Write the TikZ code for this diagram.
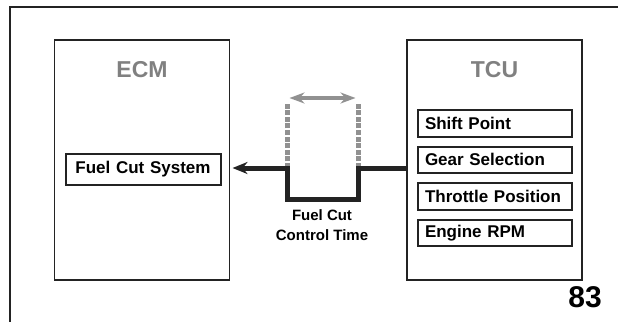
\documentclass[tikz,border=0pt]{standalone}
\usepackage{fontspec}
\setmainfont{Liberation Sans}
\usetikzlibrary{arrows.meta,positioning}
\definecolor{inkdark}{RGB}{35,35,35}
\definecolor{titlegray}{RGB}{128,128,128}
\definecolor{pulsegray}{RGB}{145,145,145}

\begin{document}
\begin{tikzpicture}[
  x=1pt, y=-1pt,
  node distance=8pt,
  unit/.style={rectangle, draw=inkdark, line width=1.5pt,
               minimum width=175pt, minimum height=240pt},
  unittitle/.style={text=titlegray, font=\fontsize{23}{26}\selectfont\bfseries},
  item/.style={rectangle, draw=inkdark, line width=2pt,
               minimum width=154pt, minimum height=26.5pt, inner xsep=7pt,
               text width=140pt, align=left, inner ysep=0pt,
               font=\fontsize{17}{19}\selectfont\bfseries},
  sig/.style={-{Stealth[length=15pt,width=12pt]}, line width=5pt, inkdark},
  gate/.style={pulsegray, line width=5pt, dash pattern=on 5pt off 1.6pt},
  span/.style={{Stealth[length=15pt,width=11pt]}-{Stealth[length=15pt,width=11pt]},
               line width=3.5pt, pulsegray, shorten <=2.5pt, shorten >=2.5pt}
]
  \useasboundingbox (0,0) rectangle (618,322);
  \draw[inkdark, line width=2pt] (618,7) -- (10,7) -- (10,322);

  \node[unit] (ecm) at (142,160) {};
  \node[unit] (tcu) at (494.5,160) {};
  \node[unittitle] (ecmt) at (142,70) {ECM};
  \node[unittitle] (tcut) at (494.5,70) {TCU};

  \node[item, align=center, minimum width=155pt, minimum height=31pt] (fcs) at (143,169.5) {Fuel Cut System};

  \node[item] (shift) at (495,123.3) {Shift Point};
  \node[item, below=of shift] (gear) {Gear Selection};
  \node[item, below=of gear] (throttle) {Throttle Position};
  \node[item, below=of throttle] (rpm) {Engine RPM};

  \coordinate (pl) at (287,168);
  \coordinate (pr) at (358,168);
  \draw[gate] (pl) -- ++(0,-65) coordinate (plt);
  \draw[gate] (pr) -- ++(0,-65) coordinate (prt);
  \draw[sig, shorten >=11pt] (tcu.west |- pr) -- (pr) -- ++(0,31) -| (pl) -- (fcs.east |- pl);
  \draw[span] ([yshift=5pt]plt) -- ([yshift=5pt]prt);

  \node[align=center, font=\fontsize{15}{20}\selectfont\bfseries] (fcct) at (322,225) {Fuel Cut\\Control Time};
  \node[font=\fontsize{30}{32}\selectfont\bfseries] (page) at (585,297) {83};
\end{tikzpicture}
\end{document}
